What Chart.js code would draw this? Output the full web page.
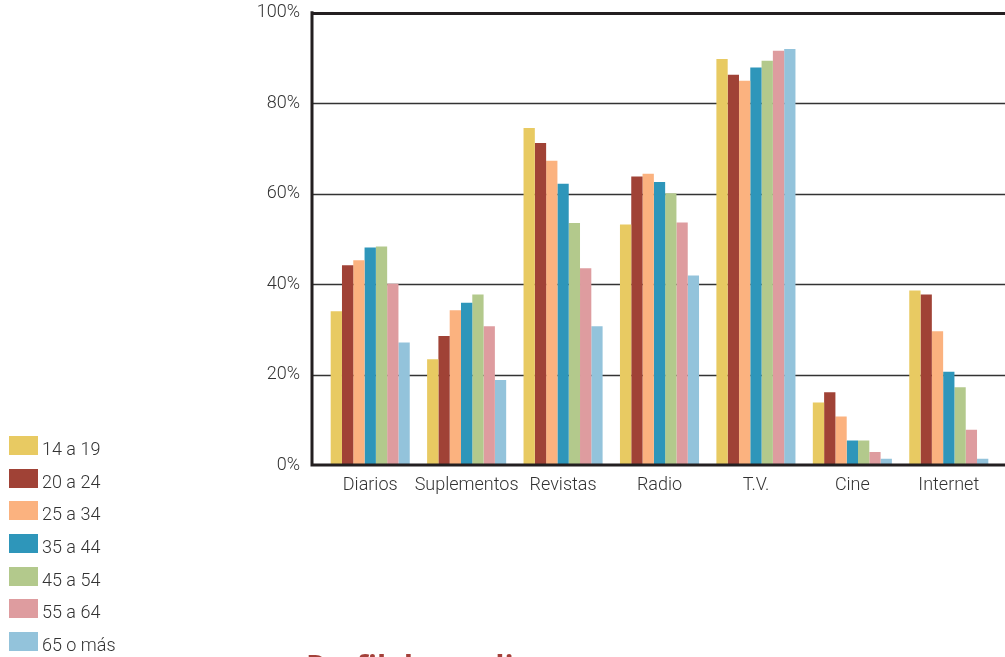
<!DOCTYPE html>
<html lang="es">
<head>
<meta charset="UTF-8">
<title>Medios por edad</title>
<script src="https://cdn.jsdelivr.net/npm/chart.js@4.4.1/dist/chart.umd.min.js"></script>
<style>
    html, body { margin: 0; padding: 0; background: #fff; }
    body { width: 1005px; height: 657px; position: relative; overflow: hidden; font-family: Roboto, "Open Sans", sans-serif; }
    #wrap { position: absolute; left: 0; top: -20px; width: 1005px; height: 677px; }
    #leyenda { position: absolute; left: 9px; top: 436px; margin: 0; padding: 0; list-style: none; }
    #leyenda li { height: 32.7px; display: flex; align-items: flex-start; color: #333; font-size: 18px; font-weight: 300; }
    #leyenda li span { display: inline-block; width: 29px; height: 19px; margin-right: 4px; }
    #leyenda li div { line-height: 19px; margin-top: 3px; }
    #titulo { position: absolute; left: 306px; top: 645px; font-family: "Open Sans", sans-serif; font-weight: 700; font-size: 30px; color: #a4413a; white-space: nowrap; }
</style>
</head>
<body>
<div id="wrap"><canvas id="grafico"></canvas></div>
<ul id="leyenda"></ul>
<div id="titulo">Perfil de medios</div>
<script>
    // categorías (medios) y grupos de edad
    var medios = ['Diarios', 'Suplementos', 'Revistas', 'Radio', 'T.V.', 'Cine', 'Internet'];
    var edades = ['14 a 19', '20 a 24', '25 a 34', '35 a 44', '45 a 54', '55 a 64', '65 o más'];
    var colores = ['#e8ca62', '#a04236', '#fbb27f', '#2e96ba', '#b3c98c', '#de9c9f', '#93c3db'];

    // porcentaje de uso por grupo de edad, en el orden de medios
    var e14a19 = [34.0, 23.4, 74.5, 53.2, 89.8, 13.8, 38.6];
    var e20a24 = [44.2, 28.5, 71.2, 63.8, 86.3, 16.1, 37.7];
    var e25a34 = [45.3, 34.2, 67.3, 64.4, 85.0, 10.7, 29.6];
    var e35a44 = [48.1, 35.9, 62.2, 62.6, 87.9, 5.4, 20.6];
    var e45a54 = [48.3, 37.7, 53.5, 60.1, 89.4, 5.4, 17.2];
    var e55a64 = [40.1, 30.7, 43.5, 53.6, 91.6, 2.9, 7.8];
    var e65mas = [27.1, 18.8, 30.7, 41.9, 92.0, 1.4, 1.4];
    var valores = [e14a19, e20a24, e25a34, e35a44, e45a54, e55a64, e65mas];

    // marcas del eje y
    var marcasY = [0, 20, 40, 60, 80, 100];

    var EJE_X = 312; // línea vertical del eje, un poco a la izquierda del área de barras
    var fuente = { family: 'Roboto', size: 18, weight: '300' };

    // líneas de la grilla y ejes, más anchas que el área de barras
    var lineasPlugin = {
        id: 'lineas',
        beforeDatasetsDraw: function (chart) {
            var ctx = chart.ctx, y = chart.scales.y;
            ctx.save();
            marcasY.forEach(function (v) {
                if (v === 0) return;
                var py = Math.round(y.getPixelForValue(v)) + 0.5;
                ctx.beginPath();
                ctx.lineWidth = v === 100 ? 3 : 1.5;
                ctx.strokeStyle = v === 100 ? '#231f20' : '#333';
                ctx.moveTo(EJE_X, py);
                ctx.lineTo(chart.width, py);
                ctx.stroke();
            });
            ctx.restore();
        },
        afterDatasetsDraw: function (chart) {
            var ctx = chart.ctx, y = chart.scales.y;
            var top = y.getPixelForValue(100), base = y.getPixelForValue(0);
            ctx.save();
            ctx.strokeStyle = '#231f20';
            ctx.lineWidth = 3;
            ctx.beginPath();
            ctx.moveTo(EJE_X, top - 1.5);
            ctx.lineTo(EJE_X, base + 1.5);
            ctx.moveTo(EJE_X, base);
            ctx.lineTo(chart.width, base);
            ctx.stroke();
            ctx.restore();
        }
    };

    var datasets = edades.map(function (nombre, i) {
        return {
            label: nombre,
            data: valores[i],
            backgroundColor: colores[i],
            borderWidth: 0,
            barPercentage: 1,
            categoryPercentage: 0.82
        };
    });

    new Chart(document.getElementById('grafico'), {
        type: 'bar',
        data: { labels: medios, datasets: datasets },
        plugins: [lineasPlugin],
        options: {
            responsive: true,
            maintainAspectRatio: false,
            animation: false,
            layout: { padding: { left: 0, right: 8, top: 0, bottom: 157 } },
            plugins: { legend: { display: false }, tooltip: { enabled: false } },
            scales: {
                x: {
                    grid: { display: false, drawTicks: false },
                    border: { display: false },
                    ticks: { color: '#333', padding: 10, maxRotation: 0, autoSkip: false, font: fuente },
                    afterFit: function (s) { s.height = 35; }
                },
                y: {
                    min: 0,
                    max: 100,
                    grid: { display: false, drawTicks: false },
                    border: { display: false },
                    afterBuildTicks: function (s) { s.ticks = marcasY.map(function (v) { return { value: v }; }); },
                    ticks: {
                        color: '#333',
                        padding: 22,
                        font: fuente,
                        callback: function (v) { return v + '%'; }
                    },
                    afterFit: function (s) { s.width = 322; }
                }
            }
        }
    });

    // leyenda vertical abajo a la izquierda
    var ley = document.getElementById('leyenda');
    edades.forEach(function (nombre, i) {
        var li = document.createElement('li');
        li.innerHTML = '<span style="background:' + colores[i] + '"></span><div>' + nombre + '</div>';
        ley.appendChild(li);
    });
</script>
</body>
</html>
